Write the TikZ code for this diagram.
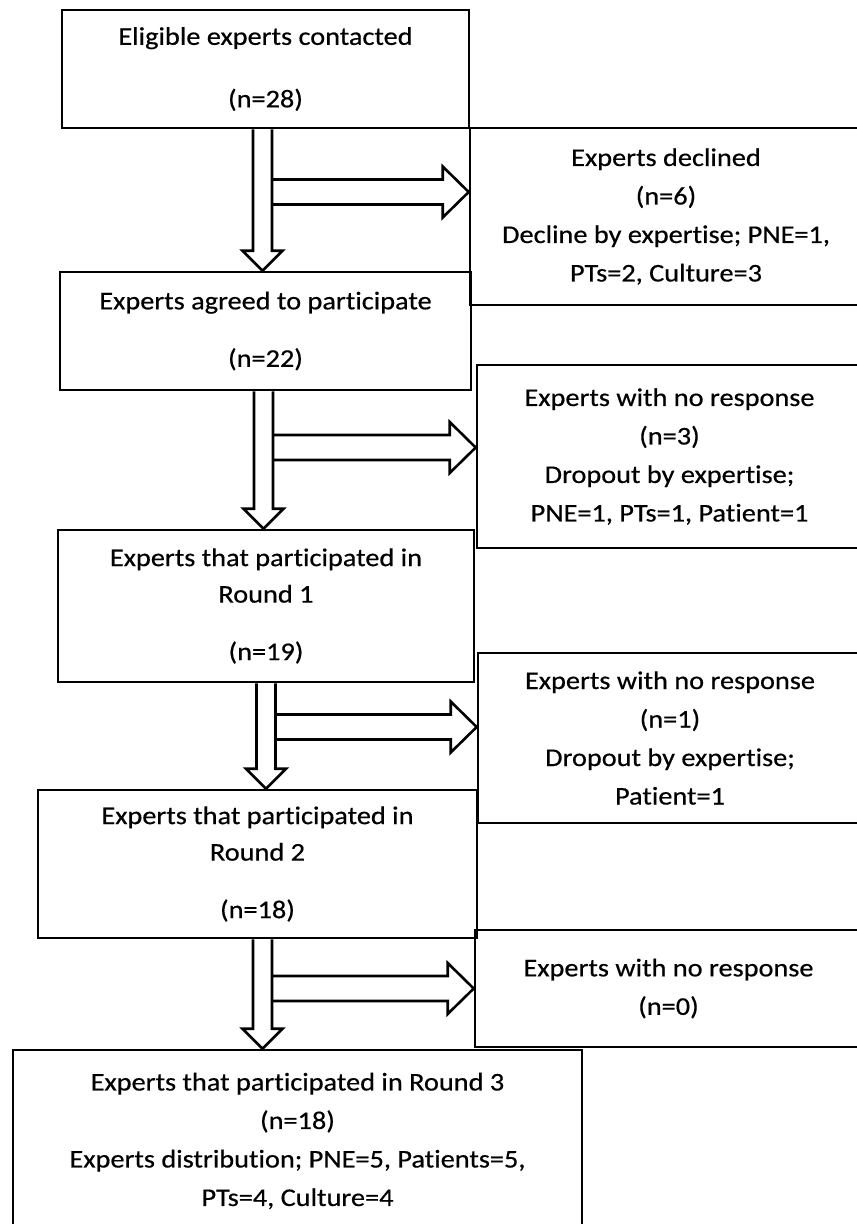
\documentclass[tikz,border=0pt]{standalone}
\usepackage{fontspec}
\setmainfont{Carlito}[FakeStretch=1.11, FakeBold=0.5, Ligatures=NoCommon]
\usetikzlibrary{calc}
\newcommand\ArSw{9.5}
\newcommand\ArHw{20}
\newcommand\ArHl{20}
\newcommand\ArBs{12.5}
\newcommand\ArBh{25.5}
\newcommand\ArBl{26}
\newcommand\stagearrows[5]{%
  \coordinate (tt) at (#4,0 |- #1.south);
  \coordinate (pp) at (#4,0 |- #2.north);
  \coordinate (qq) at (#3.west |- 0,#5);
  \coordinate (uu) at (tt |- qq);
  \draw[blockarrow] ($(tt)+(-\ArSw,0)$) -- ($(pp)+(-\ArSw,-\ArHl)$) -- ($(pp)+(-\ArHw,-\ArHl)$) -- (pp)
     -- ($(pp)+(\ArHw,-\ArHl)$) -- ($(pp)+(\ArSw,-\ArHl)$) -- ($(tt)+(\ArSw,0)$);
  \draw[blockarrow] ($(uu)+(\ArSw,-\ArBs)$) -- ($(qq)+(-\ArBl,-\ArBs)$) -- ($(qq)+(-\ArBl,-\ArBh)$) -- (qq)
     -- ($(qq)+(-\ArBl,\ArBh)$) -- ($(qq)+(-\ArBl,\ArBs)$) -- ($(uu)+(\ArSw,\ArBs)$);
}
\tikzset{
  box/.style={draw, line width=2.6bp, align=center, inner sep=0pt,
    font=\fontsize{25.5bp}{38.5bp}\selectfont},
  blockarrow/.style={draw, line width=2.6bp, line join=miter}
}
\begin{document}
\begin{tikzpicture}[x=1bp, y=-1bp]
\useasboundingbox (0,0) rectangle (857,1224);
\fill[white] (0,0) rectangle (857,1224);
\clip (0,0) rectangle (857,1224);
% side boxes (open towards the right edge)
\node[box, minimum width=392bp, minimum height=177bp] (s1) at (666,216.5)
  {Experts declined\\(n=6)\\Decline by expertise; PNE=1,\\PTs=2, Culture=3};
\node[box, minimum width=385bp, minimum height=183bp] (s2) at (669.5,456.5)
  {Experts with no response\\(n=3)\\Dropout by expertise;\\PNE=1, PTs=1, Patient=1};
\node[box, minimum width=384bp, minimum height=170bp] (s3) at (670,738)
  {Experts with no response\\(n=1)\\Dropout by expertise;\\Patient=1};
\node[box, minimum width=387bp, minimum height=117bp] (s4) at (668.5,988.5)
  {Experts with no response\\(n=0)};
% main boxes
\node[box, minimum width=407bp, minimum height=118bp] (b1) at (265.5,69)
  {Eligible experts contacted\\[24bp](n=28)};
\node[box, minimum width=411bp, minimum height=118bp] (b2) at (265.5,331)
  {Experts agreed to participate\\[19bp](n=22)};
\node[box, minimum width=416bp, minimum height=152bp] (b3) at (266,606)
  {Experts that participated in\\[-2bp]Round 1\\[19bp](n=19)};
\node[box, minimum width=439bp, minimum height=148bp] (b4) at (257.5,864)
  {Experts that participated in\\[-2bp]Round 2\\[19bp](n=18)};
\node[box, minimum width=569bp, minimum height=182bp] (b5) at (297.5,1141)
  {Experts that participated in Round 3\\(n=18)\\Experts distribution; PNE=5, Patients=5,\\PTs=4, Culture=4};
% block arrows
\stagearrows{b1}{b2}{s1}{262.5}{192}
\stagearrows{b2}{b3}{s2}{263.5}{447.5}
\stagearrows{b3}{b4}{s3}{266}{727}
\stagearrows{b4}{b5}{s4}{262.5}{988.5}
\end{tikzpicture}
\end{document}
